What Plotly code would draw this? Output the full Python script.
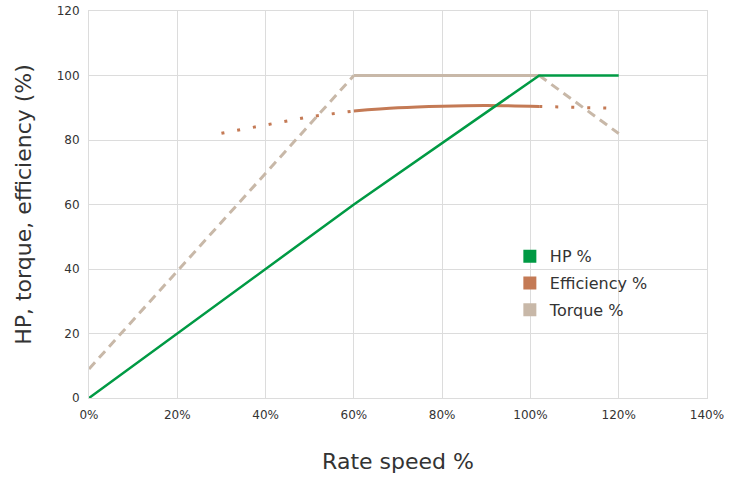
import plotly.graph_objects as go

# ---- data ----
hp_x = [0, 60, 102, 120]
hp_y = [0, 60, 100, 100]

torque_rise_x = [0, 60]
torque_rise_y = [9, 100]
torque_flat_x = [60, 102]
torque_flat_y = [100, 100]
torque_fall_x = [102, 120]
torque_fall_y = [100, 82]

eff_low_x = [30, 40, 50, 60]
eff_low_y = [82.1, 84.6, 87.2, 89.0]
eff_mid_x = [60, 70, 80, 90, 102]
eff_mid_y = [89.0, 90.0, 90.5, 90.7, 90.4]
eff_high_x = [102, 120]
eff_high_y = [90.4, 89.8]

legend_names = ["HP %", "Efficiency %", "Torque %"]

GREEN = "#009A44"
EFF = "#C47A55"
TORQ = "#C8B8A8"
FONT = "DejaVu Sans, sans-serif"
TXT = "#333333"
GRID = "#DCDCDC"

fig = go.Figure()

# torque
fig.add_trace(go.Scatter(x=torque_rise_x, y=torque_rise_y, mode="lines",
                         line=dict(color=TORQ, width=3, dash="9px,6px"), showlegend=False))
fig.add_trace(go.Scatter(x=torque_flat_x, y=torque_flat_y, mode="lines",
                         line=dict(color=TORQ, width=3), showlegend=False))
fig.add_trace(go.Scatter(x=torque_fall_x, y=torque_fall_y, mode="lines",
                         line=dict(color=TORQ, width=3, dash="9px,6px"), showlegend=False))
# efficiency
fig.add_trace(go.Scatter(x=eff_low_x, y=eff_low_y, mode="lines",
                         line=dict(color=EFF, width=3, dash="3px,13px"), showlegend=False))
fig.add_trace(go.Scatter(x=eff_mid_x, y=eff_mid_y, mode="lines",
                         line=dict(color=EFF, width=3, shape="spline"), showlegend=False))
fig.add_trace(go.Scatter(x=eff_high_x, y=eff_high_y, mode="lines",
                         line=dict(color=EFF, width=3, dash="3px,13px"), showlegend=False))
# HP
fig.add_trace(go.Scatter(x=hp_x, y=hp_y, mode="lines",
                         line=dict(color=GREEN, width=2.5), showlegend=False))

# legend entries (square swatches)
for name, col in zip(legend_names, [GREEN, EFF, TORQ]):
    fig.add_trace(go.Scatter(x=[None], y=[None], mode="markers", name=name,
                             legendgroup=name,
                             marker=dict(symbol="square", size=13, color=col)))

fig.update_layout(
    width=739, height=478,
    paper_bgcolor="white", plot_bgcolor="white",
    margin=dict(l=89, r=32, t=11, b=80),
    font=dict(family=FONT, color=TXT, size=12),
    legend=dict(x=0.681, y=0.41, xanchor="left", yanchor="top",
                font=dict(size=16, color=TXT), tracegroupgap=3,
                bgcolor="rgba(0,0,0,0)"),
    xaxis=dict(range=[0, 140], dtick=20, ticksuffix="%", showgrid=True,
               gridcolor=GRID, gridwidth=1, showline=True, linecolor=GRID,
               mirror=True, zeroline=False, ticklabelstandoff=6, automargin=False,
               tickfont=dict(size=12, color=TXT),
               title=dict(text="Rate speed %", font=dict(size=22, color=TXT), standoff=32)),
    yaxis=dict(range=[0, 120], dtick=20, showgrid=True, gridcolor=GRID,
               gridwidth=1, showline=True, linecolor=GRID, mirror=True,
               zeroline=False, ticklabelstandoff=6, automargin=False,
               ticklabeloverflow="allow",
               tickfont=dict(size=12, color=TXT),
               title=dict(text="HP, torque, efficiency (%)", font=dict(size=22, color=TXT), standoff=18)),
)

fig.write_html("out.html", config={"displayModeBar": False},
               post_script="document.body.style.margin='0';")
